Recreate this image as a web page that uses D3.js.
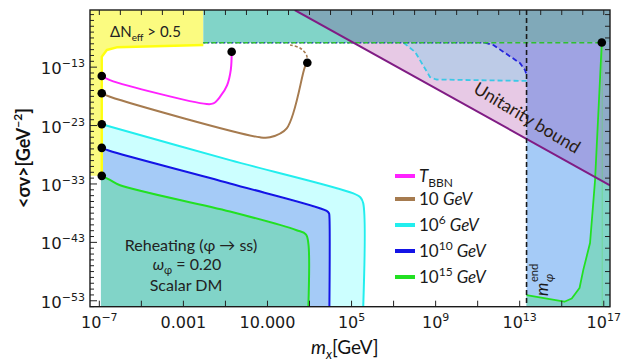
<!DOCTYPE html>
<html><head><meta charset="utf-8">
<script src="https://cdn.jsdelivr.net/npm/d3@7"></script>
<style>
html,body{margin:0;padding:0;background:#fff;}
svg{display:block;}
</style></head><body>
<svg id="chart" width="624" height="363"></svg>
<script>
// All values are log10 exponents: [log10(m_x / GeV), log10(<σv> / GeV^-2)]
const xDomainExp = [-7.42, 17.32];
const yDomainExp = [-54.1, -3.3];

// Relic-abundance contours for different reheating temperatures
const curveTBBN = [[-6.86,-14.6],[-6.47,-15.3],[-1.87,-19.4],[-1.55,-19.3],[-1.23,-18.15],[-0.9,-16.2],[-0.72,-13.5],[-0.68,-10.45]];
const curve10GeV = [[-6.86,-17.56],[-6.47,-18.15],[0.67,-25.1],[1.14,-25.1],[1.94,-23.56],[2.81,-13.0],[2.92,-12.32]];
const curve10GeVDashed = [[2.92,-12.32],[2.88,-11.0],[2.57,-9.8],[2.1,-9.3]];
const curve1e6GeV = [[-6.86,-22.85],[-0.76,-29.0],[5.11,-34.7],[5.45,-35.4],[5.58,-36.4],[5.58,-54.1]];
const curve1e10GeV = [[-6.86,-26.9],[-6.5,-27.4],[-0.76,-33.0],[3.84,-37.7],[3.95,-38.1],[3.97,-38.6],[3.97,-54.1]];
const curve1e15GeV = [[-6.86,-31.7],[-6.47,-32.4],[-5.99,-33.3],[-0.76,-37.8],[2.41,-41.0],[2.85,-41.7],[2.97,-43.3],[2.97,-54.1]];
const curve1e15GeVHigh = [[13.35,-52.1],[15.15,-53.25],[15.5,-52.7],[15.87,-50.9],[16.05,-47.8],[16.37,-43.2],[16.61,-32.4],[16.93,-8.87]];

// Upper dashed boundaries
const dashed1e6GeV = [[7.5,-8.9],[8.05,-10.5],[8.76,-14.8],[9.05,-15.2],[13.35,-15.45]];
const dashed1e10GeV = [[11.37,-8.9],[11.77,-9.3],[13.04,-12.4],[13.28,-13.6],[13.35,-14.4]];
const upperBoundaryExp = -8.9;

// ΔN_eff > 0.5 boundary
const dNeffBoundary = [[-6.86,-31.7],[-6.86,-11.3],[-6.62,-10.15],[-6.15,-9.69],[-2.03,-9.3]];

// Unitarity bound  <σv> ∝ 1/m²
const unitarity = [[2.32,-3.31],[17.32,-33.31]];

// End of reheating scale m_φ^end
const mPhiEndExp = 13.35;

// Endpoints of the contours
const markerPoints = [[-6.86,-14.6],[-6.86,-17.56],[-6.86,-22.85],[-6.86,-26.9],[-6.86,-31.7],[-0.68,-10.45],[2.92,-12.32],[16.93,-8.87]];

// Axis ticks
const xTickExps = [-7,-5,-3,-1,1,3,5,7,9,11,13,15,17];
const xLabelExps = [-7,-3,1,5,9,13,17];
const xLabels = ["10^−7","0.001","10.000","10^5","10^9","10^13","10^17"];
const yMajorExps = [-13,-23,-33,-43,-53];
const yLabels = ["10^−13","10^−23","10^−33","10^−43","10^−53"];

// Legend
const legendColors = ["#ff22ff","#a67b4f","#22eeee","#1414e6","#22e022"];
const legendParts = [
  [{t:"T",it:true},{t:"BBN",sub:true}],
  [{t:"10 "},{t:"GeV",it:true}],
  [{t:"10"},{t:"6",sup:true},{t:" GeV",it:true}],
  [{t:"10"},{t:"10",sup:true},{t:" GeV",it:true}],
  [{t:"10"},{t:"15",sup:true},{t:" GeV",it:true}]
];

const M = {left:90, right:610, top:10, bottom:306.7};

const svg = d3.select("#chart");
const x = d3.scaleLog().domain(xDomainExp.map(e => 10 ** e)).range([M.left, M.right]);
const y = d3.scaleLog().domain(yDomainExp.map(e => 10 ** e)).range([M.bottom, M.top]);
const px = d => x(10 ** d[0]);
const py = d => y(10 ** d[1]);
const lin = d3.line().x(px).y(py);
const smooth = d3.line().x(px).y(py).curve(d3.curveCatmullRom.alpha(0.5));

const [xL, xR] = xDomainExp, [yB, yT] = yDomainExp;

svg.append("defs").append("clipPath").attr("id","plot")
  .append("rect").attr("x",M.left).attr("y",M.top)
  .attr("width",M.right-M.left).attr("height",M.bottom-M.top);

const g = svg.append("g").attr("clip-path","url(#plot)");

function poly(pts, fill){
  g.append("path").attr("d", lin(pts) + "Z").attr("fill", fill).attr("stroke","none");
}
const uAt = lx => unitarity[0][1] + (lx - unitarity[0][0]) * (unitarity[1][1]-unitarity[0][1])/(unitarity[1][0]-unitarity[0][0]);
const uXat = ly => unitarity[0][0] + (ly - unitarity[0][1]) * (unitarity[1][0]-unitarity[0][0])/(unitarity[1][1]-unitarity[0][1]);

// ---- Filled regions ----
// lower-left allowed bands
poly([[-6.9,curve1e6GeV[0][1]], ...curve1e6GeV, [-6.9,yB]], "#ccffff");
poly([[-6.9,curve1e10GeV[0][1]], ...curve1e10GeV, [-6.9,yB]], "#a5cbf7");
poly([[-6.9,curve1e15GeV[0][1]], ...curve1e15GeV, [-6.9,yB]], "#81d4c8");

// ΔN_eff region
poly([[xL,yT],[xL,-31.7], ...dNeffBoundary, [-2.03,yT]], "#fbfb80");

// top band
poly([[-2.03,upperBoundaryExp],[xR,upperBoundaryExp],[xR,yT],[-2.03,yT]], "#81d4c8");
poly([[uXat(yT),yT],[uXat(upperBoundaryExp),upperBoundaryExp],[xR,upperBoundaryExp],[xR,yT]], "#80a9b9");

// above unitarity, left of m_φ^end
poly([[uXat(upperBoundaryExp),upperBoundaryExp],[mPhiEndExp,uAt(mPhiEndExp)],[mPhiEndExp,upperBoundaryExp]], "#e7c9e5");
poly([...dashed1e6GeV, ...dashed1e10GeV.slice().reverse()], "#bdcbe7");

// right of m_φ^end
poly([[mPhiEndExp,upperBoundaryExp],[xR,upperBoundaryExp],[xR,yB],[mPhiEndExp,yB]], "#a5cbf7");
poly([...dashed1e10GeV, [mPhiEndExp,uAt(mPhiEndExp)], [xR,uAt(xR)], [xR,upperBoundaryExp]], "#9fa3e3");
const gHi = curve1e15GeVHigh;
const uCross = [16.617, uAt(16.617)];
poly([uCross, gHi[7], [xR,gHi[7][1]], [xR,uAt(xR)]], "#8eabc7");
poly([[mPhiEndExp,yB], ...gHi.slice(0,7), uCross, [xR,uAt(xR)], [xR,yB]], "#81d4c8");

// ---- Lines ----
function path(pts, color, w, dash, gen){
  const p = g.append("path").attr("d",(gen||smooth)(pts)).attr("fill","none")
    .attr("stroke",color).attr("stroke-width",w).attr("stroke-linejoin","round");
  if (dash) p.attr("stroke-dasharray",dash);
  return p;
}
path(dNeffBoundary, "#ffff10", 2.4, null, lin);
path(curve1e6GeV, legendColors[2], 2);
path(curve1e10GeV, legendColors[3], 2);
path(curve1e15GeV, legendColors[4], 2);
path(curve1e15GeVHigh, legendColors[4], 1.8, null, lin);
g.append("line").attr("x1",px([16.95,0])).attr("x2",px([16.95,0]))
  .attr("y1",py([0,upperBoundaryExp])).attr("y2",M.bottom)
  .attr("stroke","#5ee05e").attr("stroke-opacity",0.45).attr("stroke-width",1);
path(curveTBBN, legendColors[0], 2);
path(curve10GeV, legendColors[1], 2);
path(curve10GeVDashed, legendColors[1], 1.6, "3,2");

path(dashed1e6GeV, "#3cc8e6", 1.8, "5,3", lin);
path(dashed1e10GeV, "#2424dc", 1.8, "5,3", lin);
path([[-2.03,upperBoundaryExp],[11.37,upperBoundaryExp]], "#2a2ae0", 1.6, "2,2", lin);
path([[-2.03,upperBoundaryExp],[16.93,upperBoundaryExp]], "#30c030", 1.6, "5,3", lin);

path(unitarity, "#801c84", 2, null, lin);
g.append("line").attr("x1",px([mPhiEndExp,0])).attr("x2",px([mPhiEndExp,0]))
  .attr("y1",M.top).attr("y2",M.bottom)
  .attr("stroke","#1a1a1a").attr("stroke-width",1.6).attr("stroke-dasharray","5,3");

g.selectAll("circle.pt").data(markerPoints).join("circle")
  .attr("cx",px).attr("cy",py).attr("r",4.3).attr("fill","#000");

// ---- Frame and ticks ----
const tickStyle = sel => { sel.select(".domain").remove(); sel.selectAll(".tick line").attr("stroke","#222").attr("stroke-width",1); };
svg.append("g").attr("transform",`translate(0,${M.bottom})`)
  .call(d3.axisBottom(x).tickValues(xTickExps.map(e=>10**e)).tickSize(-6).tickFormat(""))
  .call(tickStyle);
svg.append("g").attr("transform",`translate(0,${M.top})`)
  .call(d3.axisTop(x).tickValues(d3.range(-7,18).map(e=>10**e)).tickSize(-5).tickFormat(""))
  .call(tickStyle);
svg.append("g").attr("transform",`translate(${M.left},0)`)
  .call(d3.axisLeft(y).tickValues(d3.range(-54,-3).filter(e=>!yMajorExps.includes(e)).map(e=>10**e)).tickSize(-4).tickFormat(""))
  .call(tickStyle);
svg.append("g").attr("transform",`translate(${M.left},0)`)
  .call(d3.axisLeft(y).tickValues(yMajorExps.map(e=>10**e)).tickSize(-7).tickFormat(""))
  .call(tickStyle);
svg.append("g").attr("transform",`translate(${M.right},0)`)
  .call(d3.axisRight(y).tickValues(d3.range(-54,-3,2).map(e=>10**e)).tickSize(-5).tickFormat(""))
  .call(tickStyle);

svg.append("rect").attr("x",M.left).attr("y",M.top)
  .attr("width",M.right-M.left).attr("height",M.bottom-M.top)
  .attr("fill","none").attr("stroke","#1a1a1a").attr("stroke-width",1.4);

// rich text helper: base, subscripts, superscripts
function rich(sel, parts, size){
  let off = 0;
  parts.forEach(p => {
    const target = p.sup ? -Math.round(size*0.42) : p.sub ? Math.round(size*0.28) : 0;
    const ts = sel.append("tspan").text(p.t).attr("dy", target - off);
    if (p.sup || p.sub) ts.attr("font-size", Math.round(size*0.68));
    if (p.it) ts.attr("font-style","italic");
    off = target;
  });
}
const splitLabel = s => s.includes("^") ? [{t:s.split("^")[0]},{t:s.split("^")[1],sup:true}] : [{t:s}];

// tick labels
const xl = svg.append("g").attr("transform",`translate(0,${M.bottom})`)
  .call(d3.axisBottom(x).tickValues(xLabelExps.map(e=>10**e)).tickSize(0).tickPadding(20).tickFormat(""));
xl.select(".domain").remove();
xl.selectAll(".tick text").each(function(d,i){
  const t = d3.select(this).attr("font-family","'DejaVu Sans',sans-serif").attr("font-size",16)
    .attr("fill","#1a1a1a").attr("dy",0).attr("y",21);
  rich(t, splitLabel(xLabels[i]), 16);
});
const yl = svg.append("g").attr("transform",`translate(${M.left},0)`)
  .call(d3.axisLeft(y).tickValues(yMajorExps.map(e=>10**e)).tickSize(0).tickPadding(5).tickFormat(""));
yl.select(".domain").remove();
yl.selectAll(".tick text").each(function(d,i){
  const t = d3.select(this).attr("font-family","'DejaVu Sans',sans-serif").attr("font-size",16.5)
    .attr("fill","#1a1a1a").attr("dy",0).attr("y",7);
  rich(t, splitLabel(yLabels[i]), 16.5);
});

// axis titles
const hand = "Lato, 'Open Sans', sans-serif";
const xt = svg.append("text").attr("x",311).attr("y",354).attr("font-family",hand)
  .attr("font-size",19).attr("fill","#111");
rich(xt, [{t:"m",it:true},{t:"x",sub:true,it:true},{t:"[GeV]"}], 19);
const yt = svg.append("text").attr("transform","translate(30,158) rotate(-90)")
  .attr("text-anchor","middle").attr("font-family",hand).attr("font-size",18)
  .attr("font-weight","bold").attr("fill","#111");
rich(yt, [{t:"<σv>[GeV"},{t:"−2",sup:true},{t:"]"}], 18);

// annotations
const dn = svg.append("text").attr("x",110).attr("y",37).attr("font-family",hand)
  .attr("font-size",15).attr("fill","#222");
rich(dn, [{t:"ΔN"},{t:"eff",sub:true},{t:" > 0.5"}], 15);

const noteX = 191;
svg.append("text").attr("x",noteX).attr("y",251).attr("text-anchor","middle")
  .attr("font-family",hand).attr("font-size",16).attr("fill","#222").text("Reheating (φ → ss)");
const om = svg.append("text").attr("x",noteX-4).attr("y",270).attr("text-anchor","middle")
  .attr("font-family",hand).attr("font-size",16).attr("fill","#222");
rich(om, [{t:"ω",it:true},{t:"φ",sub:true},{t:" = 0.20"}], 16);
svg.append("text").attr("x",noteX-5).attr("y",291).attr("text-anchor","middle")
  .attr("font-family",hand).attr("font-size",16).attr("fill","#222").text("Scalar DM");

svg.append("text").attr("transform","translate(524,123) rotate(31)").attr("text-anchor","middle")
  .attr("font-family",hand).attr("font-size",17.5).attr("fill","#2a1d14").text("Unitarity bound");

const mg = svg.append("g").attr("transform","translate(548,296) rotate(-90)")
  .attr("font-family",hand).attr("fill","#1a1a1a");
mg.append("text").attr("x",0).attr("y",0).attr("font-size",17).attr("font-style","italic").text("m");
mg.append("text").attr("x",14).attr("y",5).attr("font-size",12).attr("font-style","italic").text("φ");
mg.append("text").attr("x",14).attr("y",-10).attr("font-size",11).text("end");

// legend
const legY = [176, 199, 225, 251, 277];
const lg = svg.append("g");
legendParts.forEach((parts,i) => {
  lg.append("line").attr("x1",395).attr("x2",415).attr("y1",legY[i]).attr("y2",legY[i])
    .attr("stroke",legendColors[i]).attr("stroke-width",4);
  const t = lg.append("text").attr("x",419).attr("y",legY[i]+6).attr("font-family",hand)
    .attr("font-size",17).attr("fill","#1a1a1a");
  rich(t, parts, 17);
});
</script>
</body></html>
